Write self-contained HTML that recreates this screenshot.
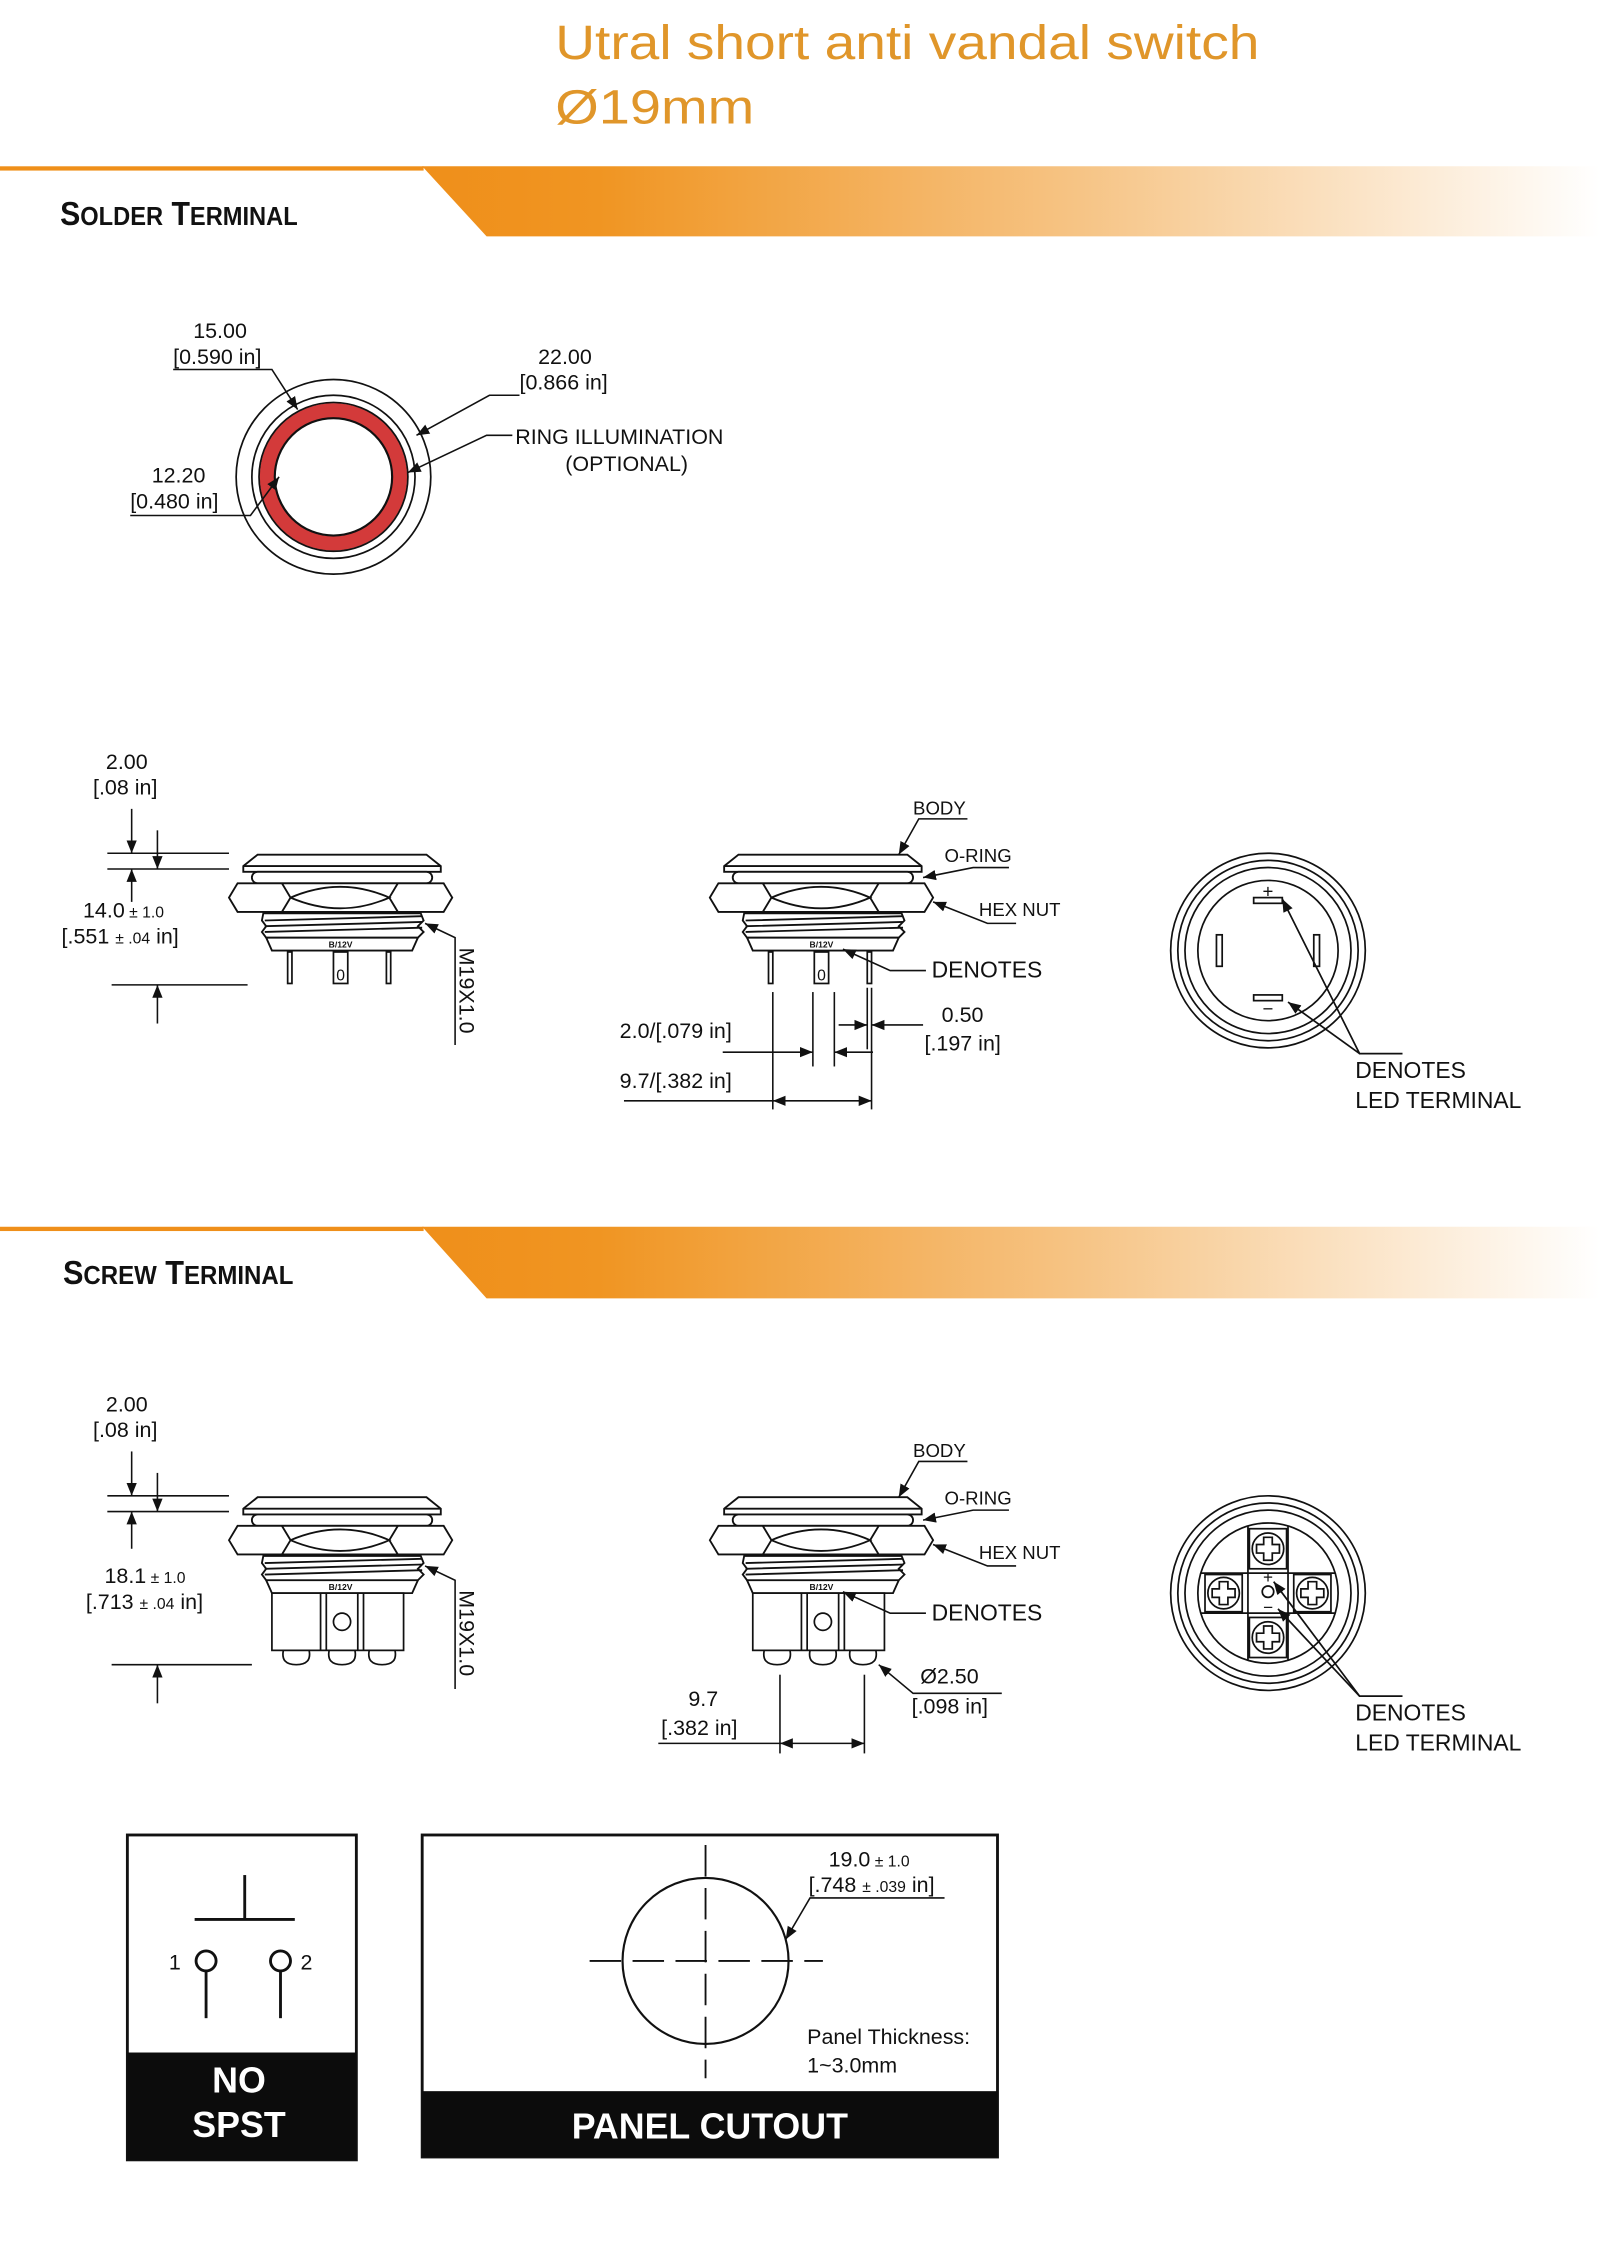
<!DOCTYPE html>
<html><head><meta charset="utf-8"><style>
html,body{margin:0;padding:0;background:#fff;width:1600px;height:2246px;overflow:hidden}
svg{display:block}
text{font-family:"Liberation Sans",sans-serif;fill:#111}
</style></head><body>
<svg width="1600" height="2246" viewBox="0 0 1118 1569" xmlns="http://www.w3.org/2000/svg">
<defs>
<linearGradient id="gr" x1="0" x2="1" y1="0" y2="0">
<stop offset="0" stop-color="#ef8f1a"/><stop offset="0.15" stop-color="#f09522"/><stop offset="0.55" stop-color="#f6c383"/><stop offset="1" stop-color="#fff"/>
</linearGradient>
<marker id="ar" viewBox="0 0 10 10" refX="10" refY="5" markerWidth="9" markerHeight="9" orient="auto-start-reverse" markerUnits="userSpaceOnUse"><path d="M0,1 L10,5 L0,9 z" fill="#111"/></marker>
<g id="sw" fill="#fff" stroke="#111" stroke-width="1.3">
<path d="M180,597 L298,597 L308,605 L308,609 L170,609 L170,605 Z"/>
<line x1="170" y1="605" x2="308" y2="605"/>
<rect x="176" y="609" width="126" height="8" rx="4"/>
<path d="M160,627 L166,617 L310,617 L316,627 L310,637 L166,637 Z"/>
<path d="M197,617 L203,627 L197,637 M278,617 L272,627 L278,637 M203,627 Q238,612 272,627 Q238,642 203,627"/>
<path d="M184,638 L294,638 L296,643 L292,647 L296,651 L292,655 L186,655 L183,651 L186,647 L183,643 Z"/>
<path d="M185,643 L295,640 M185,647 L295,644 M185,651 L295,648" fill="none"/>
<path d="M186,655 L292,655 L288,664 L190,664 Z"/>
</g>
</defs>

<text x="388" y="41" font-size="34" textLength="492" lengthAdjust="spacingAndGlyphs" style="fill:#e0962a">Utral short anti vandal switch</text>
<text x="388" y="86" font-size="34" textLength="139" lengthAdjust="spacingAndGlyphs" style="fill:#e0962a">Ø19mm</text>

<!-- bands -->
<rect x="0" y="116" width="296" height="3" fill="#ef8f1a"/>
<polygon points="295,116 1118,116 1118,165 340,165" fill="url(#gr)"/>
<text x="42" y="157" font-weight="bold" textLength="166" lengthAdjust="spacingAndGlyphs" style="font-size:23px">S<tspan style="font-size:18px">OLDER</tspan> T<tspan style="font-size:18px">ERMINAL</tspan></text>
<rect x="0" y="857" width="296" height="3" fill="#ef8f1a"/>
<polygon points="295,857 1118,857 1118,907 340,907" fill="url(#gr)"/>
<text x="44" y="897" font-weight="bold" textLength="161" lengthAdjust="spacingAndGlyphs" style="font-size:23px">S<tspan style="font-size:18px">CREW</tspan> T<tspan style="font-size:18px">ERMINAL</tspan></text>

<!-- top circle view -->
<g fill="none" stroke="#111" stroke-width="1.2">
<circle cx="233" cy="333" r="68"/>
<circle cx="233" cy="333" r="57"/>
<circle cx="233" cy="333" r="46.5" stroke="#d33a3a" stroke-width="10"/>
<circle cx="233" cy="333" r="52"/>
<circle cx="233" cy="333" r="41" stroke-width="1.5"/>
</g>
<g font-size="15">
<text x="135" y="236">15.00</text><text x="121" y="254">[0.590 in]</text>
<text x="376" y="254">22.00</text><text x="363" y="272">[0.866 in]</text>
<text x="360" y="310">RING ILLUMINATION</text><text x="395" y="329">(OPTIONAL)</text>
<text x="106" y="337">12.20</text><text x="91" y="355">[0.480 in]</text>
</g>
<g stroke="#111" stroke-width="1.1" fill="none">
<polyline points="121,258 190,258 208,286" marker-end="url(#ar)"/>
<polyline points="363,276 342,276 291,304" marker-end="url(#ar)"/>
<polyline points="358,304 340,304 285,330" marker-end="url(#ar)"/>
<polyline points="91,360 175,360 195,333" marker-end="url(#ar)"/>
</g>

<!-- solder left side view -->
<use href="#sw"/>
<g fill="#fff" stroke="#111" stroke-width="1.2">
<rect x="201" y="665" width="3" height="22"/><rect x="270" y="665" width="3" height="22"/>
<rect x="233" y="665" width="10" height="22"/>
</g>
<text x="238" y="662" font-size="6" font-weight="bold" text-anchor="middle">B/12V</text>
<text x="238" y="685" font-size="11" text-anchor="middle">0</text>
<g stroke="#111" stroke-width="1.1" fill="none">
<line x1="75" y1="596" x2="160" y2="596"/><line x1="75" y1="607" x2="160" y2="607"/>
<line x1="78" y1="688" x2="173" y2="688"/>
<line x1="92" y1="565" x2="92" y2="596" marker-end="url(#ar)"/>
<line x1="110" y1="580" x2="110" y2="607" marker-end="url(#ar)"/>
<line x1="92" y1="630" x2="92" y2="607" marker-end="url(#ar)"/>
<line x1="110" y1="715" x2="110" y2="688" marker-end="url(#ar)"/>
<polyline points="318,730 318,655 297,645" marker-end="url(#ar)"/>
</g>
<g font-size="15">
<text x="74" y="537">2.00</text><text x="65" y="555">[.08 in]</text>
<text x="58" y="641">14.0<tspan font-size="11"> ± 1.0</tspan></text>
<text x="43" y="659">[.551 <tspan font-size="11">± .04</tspan> in]</text>
<text transform="translate(321,662) rotate(90)" font-size="15">M19X1.0</text>
</g>

<!-- solder middle view -->
<use href="#sw" transform="translate(336,0)"/>
<g fill="#fff" stroke="#111" stroke-width="1.2">
<rect x="537" y="665" width="3" height="22"/><rect x="606" y="665" width="3" height="22"/>
<rect x="569" y="665" width="10" height="22"/>
</g>
<text x="574" y="662" font-size="6" font-weight="bold" text-anchor="middle">B/12V</text>
<text x="574" y="685" font-size="11" text-anchor="middle">0</text>
<g font-size="13">
<text x="638" y="569">BODY</text><text x="660" y="602">O-RING</text><text x="684" y="640">HEX NUT</text>
</g>
<text x="651" y="683" font-size="16">DENOTES</text>
<g stroke="#111" stroke-width="1.1" fill="none">
<polyline points="676,572 642,572 628,597" marker-end="url(#ar)"/>
<polyline points="705,606 680,606 645,613" marker-end="url(#ar)"/>
<polyline points="710,645 690,645 652,630" marker-end="url(#ar)"/>
<polyline points="647,678 622,678 589,663" marker-end="url(#ar)"/>
<line x1="540" y1="693" x2="540" y2="775"/><line x1="568" y1="693" x2="568" y2="745"/>
<line x1="583" y1="693" x2="583" y2="745"/><line x1="609" y1="690" x2="609" y2="775"/>
<line x1="606" y1="690" x2="606" y2="733"/>
<line x1="505" y1="735" x2="568" y2="735" marker-end="url(#ar)"/>
<line x1="610" y1="735" x2="583" y2="735" marker-end="url(#ar)"/>
<line x1="586" y1="716" x2="606" y2="716" marker-end="url(#ar)"/>
<line x1="645" y1="716" x2="609" y2="716" marker-end="url(#ar)"/>
<line x1="436" y1="769" x2="540" y2="769"/>
<line x1="540" y1="769" x2="609" y2="769" marker-start="url(#ar)" marker-end="url(#ar)"/>
</g>
<g font-size="15">
<text x="433" y="725">2.0/[.079 in]</text>
<text x="433" y="760">9.7/[.382 in]</text>
<text x="658" y="714">0.50</text><text x="646" y="734">[.197 in]</text>
</g>

<!-- solder bottom view -->
<g fill="none" stroke="#111" stroke-width="1.2">
<circle cx="886" cy="664" r="68"/><circle cx="886" cy="664" r="63"/><circle cx="886" cy="664" r="58"/>
<circle cx="886" cy="664" r="49"/>
<rect x="876" y="627" width="20" height="4"/><rect x="876" y="695" width="20" height="4"/>
<rect x="850" y="653" width="4" height="22"/><rect x="918" y="653" width="4" height="22"/>
<polyline points="980,736 950,736 896,628" marker-end="url(#ar)"/>
<line x1="950" y1="736" x2="900" y2="700" marker-end="url(#ar)"/>
</g>
<text x="886" y="627" font-size="13" text-anchor="middle">+</text>
<text x="886" y="709" font-size="13" text-anchor="middle">−</text>
<text x="947" y="753" font-size="16">DENOTES</text><text x="947" y="774" font-size="16">LED TERMINAL</text>

<!-- screw left view -->
<g id="scr">
<use href="#sw" transform="translate(0,449)"/>
<g fill="#fff" stroke="#111" stroke-width="1.2">
<rect x="190" y="1113" width="92" height="40"/>
<line x1="224" y1="1113" x2="224" y2="1153"/><line x1="228" y1="1113" x2="228" y2="1153"/>
<line x1="250" y1="1113" x2="250" y2="1153"/><line x1="254" y1="1113" x2="254" y2="1153"/>
<circle cx="239" cy="1133" r="6"/>
<path d="M198,1153 L216,1153 Q218,1163 207,1163 Q196,1163 198,1153 Z"/>
<path d="M230,1153 L248,1153 Q250,1163 239,1163 Q228,1163 230,1153 Z"/>
<path d="M258,1153 L276,1153 Q278,1163 267,1163 Q256,1163 258,1153 Z"/>
</g>
<text x="238" y="1111" font-size="6" font-weight="bold" text-anchor="middle">B/12V</text>
</g>
<g stroke="#111" stroke-width="1.1" fill="none">
<line x1="75" y1="1045" x2="160" y2="1045"/><line x1="75" y1="1056" x2="160" y2="1056"/>
<line x1="78" y1="1163" x2="176" y2="1163"/>
<line x1="92" y1="1014" x2="92" y2="1045" marker-end="url(#ar)"/>
<line x1="110" y1="1029" x2="110" y2="1056" marker-end="url(#ar)"/>
<line x1="92" y1="1082" x2="92" y2="1056" marker-end="url(#ar)"/>
<line x1="110" y1="1190" x2="110" y2="1163" marker-end="url(#ar)"/>
<polyline points="318,1180 318,1104 297,1094" marker-end="url(#ar)"/>
</g>
<g font-size="15">
<text x="74" y="986">2.00</text><text x="65" y="1004">[.08 in]</text>
<text x="73" y="1106">18.1<tspan font-size="11"> ± 1.0</tspan></text>
<text x="60" y="1124">[.713 <tspan font-size="11">± .04</tspan> in]</text>
<text transform="translate(321,1111) rotate(90)" font-size="15">M19X1.0</text>
</g>

<!-- screw middle view -->
<use href="#scr" transform="translate(336,0)"/>
<g font-size="13">
<text x="638" y="1018">BODY</text><text x="660" y="1051">O-RING</text><text x="684" y="1089">HEX NUT</text>
</g>
<text x="651" y="1132" font-size="16">DENOTES</text>
<g stroke="#111" stroke-width="1.1" fill="none">
<polyline points="676,1021 642,1021 628,1046" marker-end="url(#ar)"/>
<polyline points="705,1055 680,1055 645,1062" marker-end="url(#ar)"/>
<polyline points="710,1094 690,1094 652,1079" marker-end="url(#ar)"/>
<polyline points="647,1127 622,1127 589,1112" marker-end="url(#ar)"/>
<line x1="545" y1="1170" x2="545" y2="1225"/><line x1="604" y1="1170" x2="604" y2="1225"/>
<line x1="460" y1="1218" x2="545" y2="1218"/>
<line x1="545" y1="1218" x2="604" y2="1218" marker-start="url(#ar)" marker-end="url(#ar)"/>
<polyline points="700,1183 638,1183 614,1163" marker-end="url(#ar)"/>
</g>
<g font-size="15">
<text x="481" y="1192">9.7</text><text x="462" y="1212">[.382 in]</text>
<text x="643" y="1176">Ø2.50</text><text x="637" y="1197">[.098 in]</text>
</g>

<!-- screw bottom view -->
<g fill="none" stroke="#111" stroke-width="1.2">
<circle cx="886" cy="1113" r="68"/><circle cx="886" cy="1113" r="63"/><circle cx="886" cy="1113" r="58"/>
<circle cx="886" cy="1113" r="49"/>
<path d="M872,1066 V1160 M900,1066 V1160 M839,1099 H933 M839,1127 H933"/>
<rect x="873" y="1068" width="26" height="28" fill="#fff"/><rect x="873" y="1130" width="26" height="28" fill="#fff"/>
<rect x="842" y="1100" width="26" height="26" fill="#fff"/><rect x="904" y="1100" width="26" height="26" fill="#fff"/>
<circle cx="886" cy="1082" r="11"/><circle cx="886" cy="1144" r="11"/><circle cx="855" cy="1113" r="11"/><circle cx="917" cy="1113" r="11"/>
<path d="M883,1074h6v5h5v6h-5v5h-6v-5h-5v-6h5z M883,1136h6v5h5v6h-5v5h-6v-5h-5v-6h5z M852,1105h6v5h5v6h-5v5h-6v-5h-5v-6h5z M914,1105h6v5h5v6h-5v5h-6v-5h-5v-6h5z"/>
<circle cx="886" cy="1112" r="4"/>
<polyline points="980,1185 950,1185 890,1105" marker-end="url(#ar)"/>
<line x1="950" y1="1185" x2="893" y2="1124" marker-end="url(#ar)"/>
</g>
<text x="886" y="1106" font-size="12" text-anchor="middle">+</text>
<text x="886" y="1127" font-size="12" text-anchor="middle">−</text>
<text x="947" y="1202" font-size="16">DENOTES</text><text x="947" y="1223" font-size="16">LED TERMINAL</text>

<!-- NO SPST box -->
<rect x="89" y="1282" width="160" height="227" fill="#fff" stroke="#111" stroke-width="2"/>
<rect x="89" y="1434" width="160" height="75" fill="#0c0c0c"/>
<g stroke="#111" stroke-width="2" fill="none">
<line x1="136" y1="1341" x2="206" y2="1341"/><line x1="171" y1="1310" x2="171" y2="1341"/>
<circle cx="144" cy="1370" r="7"/><circle cx="196" cy="1370" r="7"/>
<line x1="144" y1="1377" x2="144" y2="1410"/><line x1="196" y1="1377" x2="196" y2="1410"/>
</g>
<text x="118" y="1376" font-size="15">1</text><text x="210" y="1376" font-size="15">2</text>
<text x="167" y="1462" font-size="25" font-weight="bold" text-anchor="middle" style="fill:#fff">NO</text>
<text x="167" y="1493" font-size="25" font-weight="bold" text-anchor="middle" style="fill:#fff">SPST</text>

<!-- Panel cutout -->
<rect x="295" y="1282" width="402" height="225" fill="#fff" stroke="#111" stroke-width="2"/>
<rect x="295" y="1461" width="402" height="46" fill="#0c0c0c"/>
<circle cx="493" cy="1370" r="58" fill="none" stroke="#111" stroke-width="1.5"/>
<g stroke="#111" stroke-width="1.3" stroke-dasharray="22,8" fill="none">
<line x1="412" y1="1370" x2="575" y2="1370"/><line x1="493" y1="1289" x2="493" y2="1452"/>
</g>
<polyline points="660,1326 566,1326 549,1355" stroke="#111" stroke-width="1.1" fill="none" marker-end="url(#ar)"/>
<g font-size="15">
<text x="579" y="1304">19.0<tspan font-size="11"> ± 1.0</tspan></text>
<text x="565" y="1322">[.748 <tspan font-size="11">± .039</tspan> in]</text>
<text x="564" y="1428">Panel Thickness:</text><text x="564" y="1448">1~3.0mm</text>
</g>
<text x="496" y="1494" font-size="25" font-weight="bold" text-anchor="middle" style="fill:#fff">PANEL CUTOUT</text>
</svg>
</body></html>
